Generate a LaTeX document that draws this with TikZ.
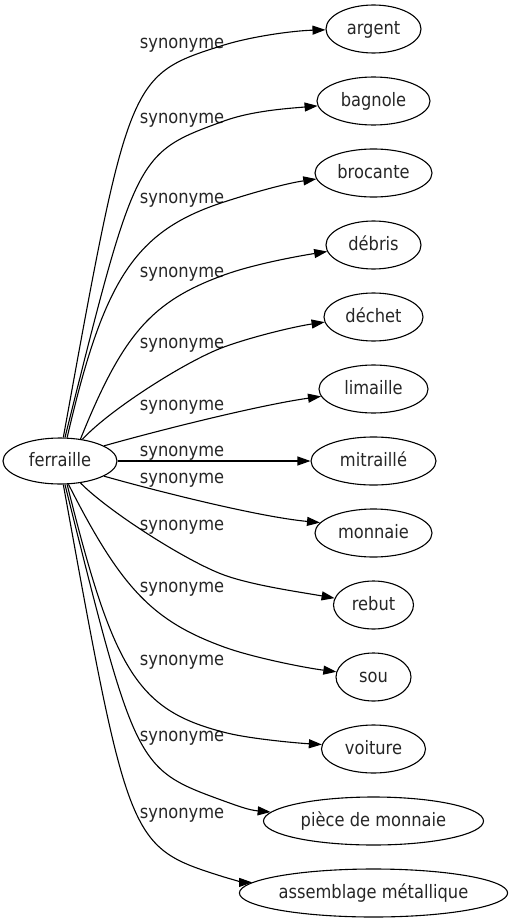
\documentclass[tikz,border=0pt]{standalone}
\usepackage{fontspec}
\setmainfont{DejaVu Sans}[FakeStretch=0.88]
\usetikzlibrary{shapes.geometric,arrows.meta}
\tikzset{
  ell/.style={draw, ellipse, line width=1.1pt, inner sep=0pt, minimum height=48pt,
    text=black!85, text height=14pt, text depth=3pt,
    font=\fontsize{18.5pt}{22pt}\selectfont},
  lbl/.style={inner sep=0pt, text=black!85, text height=14pt, text depth=3pt,
    font=\fontsize{18.5pt}{22pt}\selectfont},
  edge/.style={line width=1.1pt, -{Triangle[length=13pt,width=9pt]}},
}
\begin{document}
\begin{tikzpicture}[x=1pt,y=1pt]
\fill[white] (0,0) rectangle (511,-923);
\useasboundingbox (0,0) rectangle (511,-923);
% nodes
\node[ell, minimum width=114pt, minimum height=46pt] (f) at (60,-461) {ferraille};
\node[ell, minimum width=95pt]  (ar) at (373.5,-29)  {argent};
\node[ell, minimum width=113pt] (ba) at (373.5,-101) {bagnole};
\node[ell, minimum width=117pt] (br) at (373.5,-173) {brocante};
\node[ell, minimum width=95pt]  (de) at (373.5,-245) {débris};
\node[ell, minimum width=99pt]  (dc) at (373.5,-317) {déchet};
\node[ell, minimum width=109pt] (li) at (373.5,-389) {limaille};
\node[ell, minimum width=125pt] (mi) at (373.5,-461) {mitraillé};
\node[ell, minimum width=117pt] (mo) at (373.5,-533) {monnaie};
\node[ell, minimum width=80pt]  (re) at (373.5,-605) {rebut};
\node[ell, minimum width=75pt]  (so) at (373.5,-677) {sou};
\node[ell, minimum width=104pt] (vo) at (373.5,-749) {voiture};
\node[ell, minimum width=220pt] (pi) at (373.5,-821) {pièce de monnaie};
\node[ell, minimum width=267pt] (asm) at (373.5,-893) {assemblage métallique};
% labels
\node[lbl] (l0)  at (182,-43)  {synonyme};
\node[lbl] (l1)  at (182,-118) {synonyme};
\node[lbl] (l2)  at (182,-198) {synonyme};
\node[lbl] (l3)  at (182,-272) {synonyme};
\node[lbl] (l4)  at (182,-343) {synonyme};
\node[lbl] (l5)  at (182,-405) {synonyme};
\node[lbl] (l6)  at (182,-451) {synonyme};
\node[lbl] (l7)  at (182,-478) {synonyme};
\node[lbl] (l8)  at (182,-525) {synonyme};
\node[lbl] (l9)  at (182,-587) {synonyme};
\node[lbl] (l10) at (182,-660) {synonyme};
\node[lbl] (l11) at (182,-736) {synonyme};
\node[lbl] (l12) at (182,-813) {synonyme};
% edges
\draw[edge] (f.82.7) .. controls (129,-75) and (129,-75) .. (224,-45) .. controls (252.7,-36.2) and (293.5,-30.7) .. (ar.181.2);
\draw[edge] (f.78) .. controls (136,-153) and (136,-153) .. (224,-121) .. controls (252,-110.7) and (288.8,-108.4) .. (ba.185);
\draw[edge] (f.73) .. controls (104,-278) and (135.4,-230.8) .. (224,-202) .. controls (252.5,-192.7) and (286,-183.4) .. (br.186.8);
\draw[edge] (f.47) .. controls (122.8,-334) and (151.6,-301.4) .. (224,-275) .. controls (252.2,-264.7) and (294.4,-256.7) .. (de.188.4);
\draw[edge] (f.44) .. controls (108.8,-410.3) and (186.4,-360.7) .. (224,-347) .. controls (252.2,-336.7) and (294.1,-326.6) .. (dc.186.9);
\draw[edge] (f.19.4) .. controls (160,-430) and (260,-405) .. (li.188.4);
\draw[edge] (f) -- (mi);
\draw[edge] (f.-19.4) .. controls (160,-492) and (260,-517) .. (mo.169.4);
\draw[edge] (f.-47) .. controls (108.3,-511.3) and (186.4,-561.3) .. (224,-575) .. controls (252.2,-585.3) and (299.6,-592) .. (re.170);
\draw[edge] (f.-70.6) .. controls (121.2,-588.3) and (152.4,-620.9) .. (224,-647) .. controls (252.2,-657.3) and (304.1,-667.7) .. (so.172.4);
\draw[edge] (f.-73) .. controls (114.1,-673.7) and (138.1,-710.9) .. (227,-733) .. controls (251.3,-739) and (298.7,-743.2) .. (vo.175.6);
\draw[edge] (f.-78) .. controls (136,-769) and (136,-769) .. (224,-801) .. controls (238.1,-806.1) and (249,-810.1) .. (pi.175);
\draw[edge] (f.-82.7) .. controls (129,-847) and (129,-847) .. (224,-877) .. controls (233.6,-879.9) and (243.9,-882.4) .. (asm.175.3);
\end{tikzpicture}
\end{document}
